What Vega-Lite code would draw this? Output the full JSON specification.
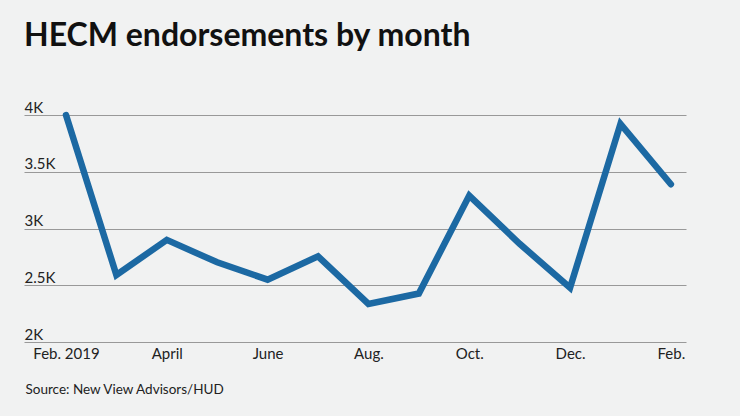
{
  "$schema": "https://vega.github.io/schema/vega-lite/v6.json",
  "width": 662,
  "height": 227,
  "autosize": {"type": "none"},
  "padding": {"left": 24, "top": 115, "right": 54, "bottom": 74},
  "background": "#f1f2f2",
  "title": {
    "text": "HECM endorsements by month",
    "anchor": "start",
    "frame": "group",
    "orient": "top",
    "font": "Lato",
    "fontSize": 32,
    "fontWeight": "bold",
    "color": "#111111",
    "dx": 0,
    "offset": 47
  },
  "data": {
    "values": [
      {"i": 0, "month": "Feb. 2019", "endorsements": 4000},
      {"i": 1, "month": "March", "endorsements": 2590},
      {"i": 2, "month": "April", "endorsements": 2900},
      {"i": 3, "month": "May", "endorsements": 2702},
      {"i": 4, "month": "June", "endorsements": 2549},
      {"i": 5, "month": "July", "endorsements": 2755},
      {"i": 6, "month": "Aug.", "endorsements": 2335},
      {"i": 7, "month": "Sept.", "endorsements": 2427},
      {"i": 8, "month": "Oct.", "endorsements": 3290},
      {"i": 9, "month": "Nov.", "endorsements": 2865},
      {"i": 10, "month": "Dec.", "endorsements": 2478},
      {"i": 11, "month": "Jan.", "endorsements": 3922},
      {"i": 12, "month": "Feb.", "endorsements": 3390}
    ]
  },
  "mark": {"type": "line", "color": "#1c69a3", "strokeWidth": 6.5, "strokeCap": "round", "strokeJoin": "miter"},
  "encoding": {
    "x": {
      "field": "i",
      "type": "quantitative",
      "scale": {"domain": [-0.833, 12.3], "nice": false, "zero": false},
      "axis": {
        "values": [0, 2, 4, 6, 8, 10, 12],
        "labelExpr": "['Feb. 2019','March','April','May','June','July','Aug.','Sept.','Oct.','Nov.','Dec.','Jan.','Feb.'][datum.value]",
        "grid": false,
        "domain": false,
        "ticks": false,
        "labelFont": "Lato",
        "labelFontSize": 15,
        "labelColor": "#222222",
        "labelPadding": 4,
        "labelFlush": false,
        "title": "Source: New View Advisors/HUD",
        "titleFont": "Lato",
        "titleFontSize": 13.5,
        "titleFontWeight": "normal",
        "titleColor": "#222222",
        "titleAnchor": "start",
        "titleAlign": "left",
        "titleX": 1,
        "titleY": 40
      }
    },
    "y": {
      "field": "endorsements",
      "type": "quantitative",
      "scale": {"domain": [2000, 4000], "nice": false, "zero": false},
      "axis": {
        "values": [2000, 2500, 3000, 3500, 4000],
        "labelExpr": "datum.value / 1000 + 'K'",
        "grid": true,
        "gridColor": "#999999",
        "gridWidth": 1,
        "gridOpacity": 1,
        "domain": false,
        "ticks": false,
        "tickSize": 0,
        "labelAlign": "left",
        "labelBaseline": "alphabetic",
        "labelPadding": 0,
        "labelOffset": -3,
        "labelFont": "Lato",
        "labelFontSize": 15,
        "labelColor": "#222222",
        "title": null
      }
    }
  },
  "config": {"view": {"stroke": null}}
}
